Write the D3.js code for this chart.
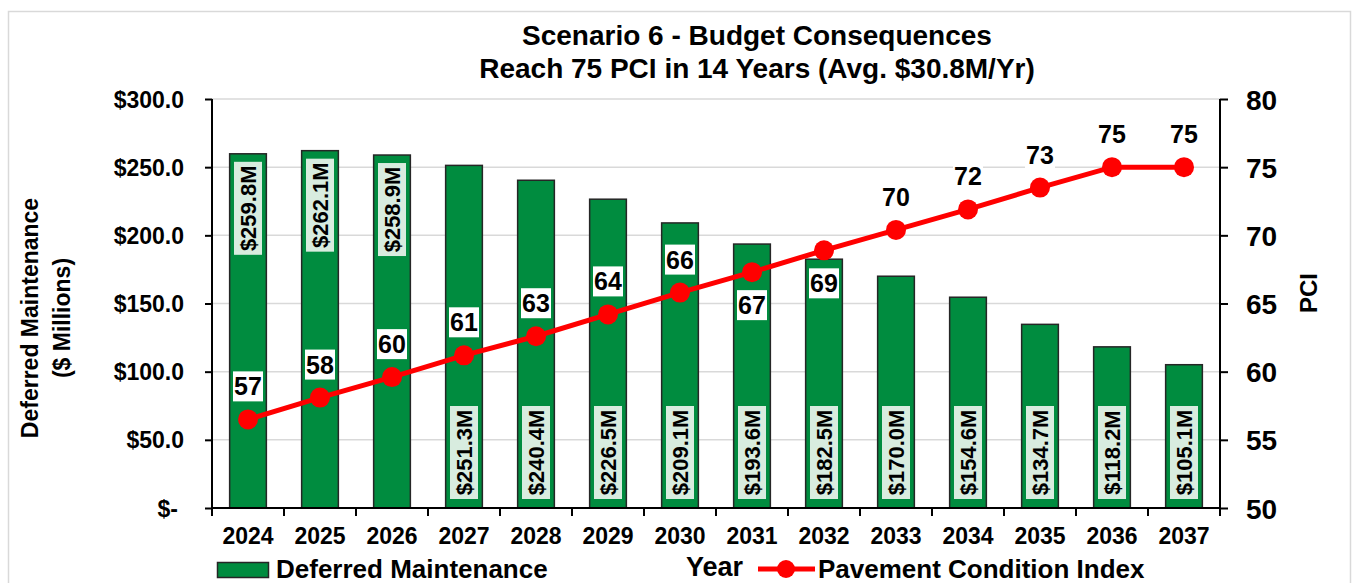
<!DOCTYPE html>
<html>
<head>
<meta charset="utf-8">
<script src="https://cdn.jsdelivr.net/npm/d3@7"></script>
<style>
  body { margin: 0; background: #fff; }
  svg text { font-family: "Liberation Sans", Arial, sans-serif; font-weight: bold; fill: #000; }
</style>
</head>
<body>
<div id="chart"></div>
<script>
// data
const years = ['2024','2025','2026','2027','2028','2029','2030','2031','2032','2033','2034','2035','2036','2037'];
const deferred = [259.8, 262.1, 258.9, 251.3, 240.4, 226.5, 209.1, 193.6, 182.5, 170.0, 154.6, 134.7, 118.2, 105.1];
const pci = [56.5, 58.1, 59.6, 61.2, 62.6, 64.2, 65.8, 67.3, 68.9, 70.4, 71.9, 73.5, 75.0, 75.0];
const pciLabels = ['57','58','60','61','63','64','66','67','69','70','72','73','75','75'];
const pciLabelSide = ['up','up','up','up','up','up','up','down','down','up','up','up','up','up'];
const barLabelSide = ['top','top','top','base','base','base','base','base','base','base','base','base','base','base'];
const leftTicks = [0, 50, 100, 150, 200, 250, 300];
const rightTicks = [50, 55, 60, 65, 70, 75, 80];

const colors = { bar: '#008c3f', barStroke: '#262626', line: '#ff0000', grid: '#d9d9d9', labelBg: '#d8ecdf' };

const width = 1355, height = 583;
const plot = { left: 212, right: 1220, top: 99, bottom: 508 };

const svg = d3.select('#chart').append('svg')
  .attr('width', width).attr('height', height);

// outer chart border
svg.append('rect')
  .attr('x', 8.5).attr('y', 11.5).attr('width', 1342).attr('height', 590)
  .attr('fill', '#fff').attr('stroke', colors.grid).attr('stroke-width', 1.5);

const x = d3.scaleBand().domain(years).range([plot.left, plot.right]).paddingInner(0.49).paddingOuter(0.245);
const xEdges = d3.scaleBand().domain(years).range([plot.left, plot.right]);
const yL = d3.scaleLinear().domain([0, 300]).range([plot.bottom, plot.top]);
const yR = d3.scaleLinear().domain([50, 80]).range([plot.bottom, plot.top]);

// gridlines
svg.append('g').selectAll('line').data(leftTicks.filter(d => d > 0)).enter().append('line')
  .attr('x1', plot.left).attr('x2', plot.right)
  .attr('y1', d => yL(d)).attr('y2', d => yL(d))
  .attr('stroke', colors.grid).attr('stroke-width', 1.5);

// bars
svg.append('g').selectAll('rect').data(deferred).enter().append('rect')
  .attr('x', (d, i) => x(years[i]))
  .attr('y', d => yL(d))
  .attr('width', x.bandwidth())
  .attr('height', d => plot.bottom - yL(d))
  .attr('fill', colors.bar)
  .attr('stroke', colors.barStroke).attr('stroke-width', 1.5);

// bar value labels (rotated)
const barLab = svg.append('g');
deferred.forEach((d, i) => {
  const cx = x(years[i]) + x.bandwidth() / 2;
  const boxH = 93, boxW = 28;
  const cy = barLabelSide[i] === 'top' ? yL(d) + 8 + boxH / 2 : plot.bottom - 9 - boxH / 2;
  barLab.append('rect')
    .attr('x', cx - boxW / 2).attr('y', cy - boxH / 2)
    .attr('width', boxW).attr('height', boxH)
    .attr('fill', colors.labelBg);
  barLab.append('text')
    .attr('transform', `translate(${cx},${cy}) rotate(-90)`)
    .attr('text-anchor', 'middle').attr('dy', '0.36em')
    .style('font-size', '22px')
    .text('$' + d.toFixed(1) + 'M');
});

// axes
const axisL = d3.axisLeft(yL).tickValues(leftTicks).tickSize(7).tickPadding(21)
  .tickFormat(d => d === 0 ? '$-' : '$' + d.toFixed(1));
const gL = svg.append('g').attr('transform', `translate(${plot.left},0)`).call(axisL);
gL.selectAll('text').style('font-size', '23px').attr('dy', '0.35em')
  .attr('dx', d => d === 0 ? -6 : 0);

const axisR = d3.axisRight(yR).tickValues(rightTicks).tickSize(8).tickPadding(18);
const gR = svg.append('g').attr('transform', `translate(${plot.right},0)`).call(axisR);
gR.selectAll('text').style('font-size', '28px').attr('dy', '0.36em');

const axisB = d3.axisBottom(xEdges).tickSize(0).tickPadding(20);
const gB = svg.append('g').attr('transform', `translate(0,${plot.bottom})`).call(axisB);
gB.selectAll('text').style('font-size', '23px').attr('dy', '0.71em');
// tick marks between categories
svg.append('g').selectAll('line').data(years.concat(['end'])).enter().append('line')
  .attr('x1', (d, i) => plot.left + i * xEdges.step()).attr('x2', (d, i) => plot.left + i * xEdges.step())
  .attr('y1', plot.bottom).attr('y2', plot.bottom + 8)
  .attr('stroke', '#000').attr('stroke-width', 2);

[gL, gR, gB].forEach(g => {
  g.select('.domain').attr('stroke', '#000').attr('stroke-width', 2);
  g.selectAll('.tick line').attr('stroke', '#000').attr('stroke-width', 2);
  g.selectAll('text').attr('font-family', null);
});
gB.select('.domain').attr('d', `M${plot.left},0H${plot.right}`);
gL.select('.domain').attr('d', `M0,${plot.top}V${plot.bottom}`);
gR.select('.domain').attr('d', `M0,${plot.top}V${plot.bottom}`);

// PCI line
const line = d3.line().x((d, i) => xEdges(years[i]) + xEdges.bandwidth() / 2).y(d => yR(d));
svg.append('path').datum(pci)
  .attr('d', line).attr('fill', 'none')
  .attr('stroke', colors.line).attr('stroke-width', 5);
svg.append('g').selectAll('circle').data(pci).enter().append('circle')
  .attr('cx', (d, i) => xEdges(years[i]) + xEdges.bandwidth() / 2)
  .attr('cy', d => yR(d)).attr('r', 10)
  .attr('fill', colors.line);

// PCI labels
const pLab = svg.append('g');
pci.forEach((d, i) => {
  const cx = xEdges(years[i]) + xEdges.bandwidth() / 2;
  const cy = yR(d) + (pciLabelSide[i] === 'up' ? -33 : 33);
  pLab.append('rect')
    .attr('x', cx - 15).attr('y', cy - 15).attr('width', 30).attr('height', 30)
    .attr('fill', '#fff');
  pLab.append('text')
    .attr('x', cx).attr('y', cy).attr('dy', '0.36em')
    .attr('text-anchor', 'middle').style('font-size', '25px')
    .text(pciLabels[i]);
});

// title
const title = svg.append('text').attr('text-anchor', 'middle').style('font-size', '28px');
title.append('tspan').attr('x', 757).attr('y', 45).text('Scenario 6 - Budget Consequences');
title.append('tspan').attr('x', 757).attr('y', 78).text('Reach 75 PCI in 14 Years (Avg. $30.8M/Yr)');

// axis titles
const lt = svg.append('text').attr('text-anchor', 'middle').style('font-size', '23px')
  .attr('transform', 'translate(0,318) rotate(-90)');
lt.append('tspan').attr('x', 0).attr('y', 38).text('Deferred Maintenance');
lt.append('tspan').attr('x', 0).attr('y', 70).text('($ Millions)');

svg.append('text').attr('text-anchor', 'middle').style('font-size', '24px')
  .attr('transform', 'translate(1317,293) rotate(-90)').text('PCI');

svg.append('text').attr('x', 686).attr('y', 576).style('font-size', '27px').text('Year');

// legend
svg.append('rect').attr('x', 217.5).attr('y', 562.5).attr('width', 51).attr('height', 15)
  .attr('fill', colors.bar).attr('stroke', colors.barStroke).attr('stroke-width', 1.5);
svg.append('text').attr('x', 276).attr('y', 578).style('font-size', '26px').text('Deferred Maintenance');
svg.append('line').attr('x1', 758).attr('x2', 815).attr('y1', 569).attr('y2', 569)
  .attr('stroke', colors.line).attr('stroke-width', 5);
svg.append('circle').attr('cx', 786).attr('cy', 569).attr('r', 9).attr('fill', colors.line);
svg.append('text').attr('x', 818).attr('y', 578).style('font-size', '26px').text('Pavement Condition Index');
</script>
</body>
</html>
